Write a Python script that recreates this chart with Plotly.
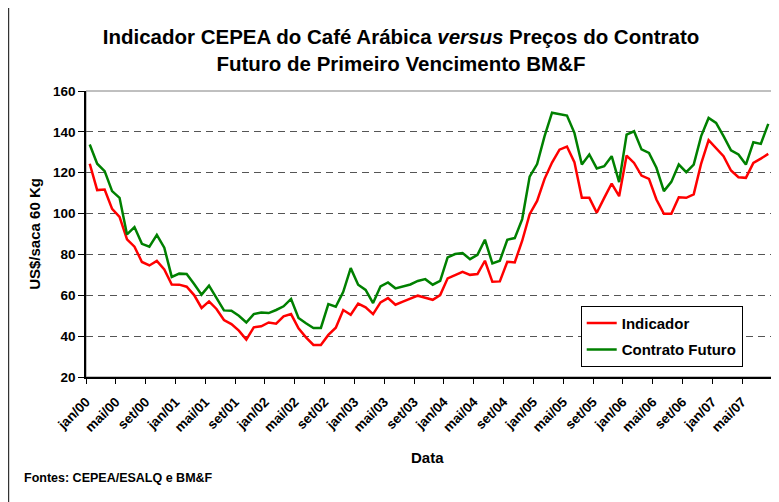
import plotly.graph_objects as go

meses = [
    "jan/00", "fev/00", "mar/00", "abr/00", "mai/00", "jun/00", "jul/00", "ago/00", "set/00", "out/00", "nov/00", "dez/00",
    "jan/01", "fev/01", "mar/01", "abr/01", "mai/01", "jun/01", "jul/01", "ago/01", "set/01", "out/01", "nov/01", "dez/01",
    "jan/02", "fev/02", "mar/02", "abr/02", "mai/02", "jun/02", "jul/02", "ago/02", "set/02", "out/02", "nov/02", "dez/02",
    "jan/03", "fev/03", "mar/03", "abr/03", "mai/03", "jun/03", "jul/03", "ago/03", "set/03", "out/03", "nov/03", "dez/03",
    "jan/04", "fev/04", "mar/04", "abr/04", "mai/04", "jun/04", "jul/04", "ago/04", "set/04", "out/04", "nov/04", "dez/04",
    "jan/05", "fev/05", "mar/05", "abr/05", "mai/05", "jun/05", "jul/05", "ago/05", "set/05", "out/05", "nov/05", "dez/05",
    "jan/06", "fev/06", "mar/06", "abr/06", "mai/06", "jun/06", "jul/06", "ago/06", "set/06", "out/06", "nov/06", "dez/06",
    "jan/07", "fev/07", "mar/07", "abr/07", "mai/07", "jun/07", "jul/07", "ago/07",
]

indicador = [
    124.4, 111.5, 111.8, 102.3, 98.4, 87.4, 83.8, 76.3, 74.6, 76.8, 72.7, 65.3,
    65.2, 64.2, 60.1, 53.8, 57.0, 53.3, 47.9, 45.9, 42.7, 38.3, 44.3, 44.8,
    46.7, 46.1, 49.7, 50.8, 43.8, 39.4, 35.7, 35.7, 40.6, 44.1, 52.8, 50.5,
    55.9, 54.1, 50.8, 56.5, 58.6, 55.4, 56.9, 58.2, 59.8, 58.8, 57.8, 60.1,
    68.3, 69.9, 71.5, 70.0, 70.4, 76.9, 66.6, 66.8, 76.4, 76.1, 86.7, 99.7,
    106.2, 117.0, 125.0, 131.3, 132.8, 125.2, 107.7, 107.7, 100.4, 107.7, 114.7, 108.5,
    128.4, 124.8, 118.6, 117.0, 106.9, 99.9, 99.9, 108.0, 107.7, 109.4, 124.5, 135.9,
    132.1, 128.1, 121.1, 117.8, 117.5, 124.8, 126.9, 129.2,
]

contrato_futuro = [
    133.8, 124.4, 120.8, 111.0, 107.7, 89.8, 93.4, 85.2, 83.8, 89.6, 83.3, 69.0,
    70.6, 70.4, 65.5, 60.3, 64.7, 58.6, 52.6, 52.4, 50.0, 46.7, 50.8, 51.6,
    51.3, 52.8, 54.6, 58.2, 48.9, 46.3, 44.0, 44.0, 55.7, 54.4, 61.7, 73.3,
    65.2, 62.6, 56.2, 64.4, 66.3, 63.4, 64.5, 65.3, 67.0, 67.9, 65.2, 67.1,
    78.5, 80.2, 80.7, 77.7, 79.8, 87.2, 75.6, 76.9, 87.2, 88.0, 97.3, 118.1,
    124.2, 137.9, 149.4, 148.6, 148.0, 139.5, 124.0, 128.9, 122.1, 123.2, 128.1, 115.4,
    138.7, 140.3, 131.4, 129.7, 122.4, 111.0, 115.5, 124.0, 120.3, 124.0, 137.9, 146.8,
    144.4, 137.9, 131.0, 128.9, 124.0, 134.9, 134.1, 143.9,
]

rotulos_x = ["jan/00", "mai/00", "set/00", "jan/01", "mai/01", "set/01", "jan/02", "mai/02",
             "set/02", "jan/03", "mai/03", "set/03", "jan/04", "mai/04", "set/04", "jan/05",
             "mai/05", "set/05", "jan/06", "mai/06", "set/06", "jan/07", "mai/07"]

y_ticks = [20, 40, 60, 80, 100, 120, 140, 160]

FONT = "Liberation Sans, Arial, sans-serif"
# the page places the figure 8px in from the top-left corner
OFF = 8
PAGE_W, PAGE_H = 779, 502
W, H = PAGE_W - OFF, PAGE_H - OFF
# plot area in page pixels: x 86..771.7, y 91..377.3
L, T = 86 - OFF, 91 - OFF
R = PAGE_W - 771.7
B = PAGE_H - 377.3
pw, ph = W - L - R, H - T - B

def px_x(x):
    return (x - 86) / (771.7 - 86)

def px_y(y):
    return (377.3 - y) / (377.3 - 91)

xs = list(range(len(meses)))

fig = go.Figure()
fig.add_trace(go.Scatter(
    x=xs, y=indicador, mode="lines", name="Indicador",
    line=dict(color="#FF0000", width=2.5), legendgroup="a",
    text=meses, hovertemplate="%{text}: %{y}<extra>Indicador</extra>",
))
fig.add_trace(go.Scatter(
    x=xs, y=contrato_futuro, mode="lines", name="Contrato Futuro",
    line=dict(color="#008000", width=2.5), legendgroup="b",
    text=meses, hovertemplate="%{text}: %{y}<extra>Contrato Futuro</extra>",
))

tickvals = [meses.index(m) - 0.5 for m in rotulos_x] + [len(meses) - 0.5]
ticktext = rotulos_x + [""]

fig.update_layout(
    width=W, height=H,
    margin=dict(l=L, r=R, t=T, b=B, autoexpand=False),
    paper_bgcolor="white", plot_bgcolor="white",
    font=dict(family=FONT, color="black"),
    title=dict(
        text="Indicador CEPEA do Café Arábica <i>versus</i> Preços do Contrato<br>Futuro de Primeiro Vencimento BM&F",
        x=(401 - OFF) / W, xanchor="center", xref="container",
        y=1 - (44 - OFF) / H, yanchor="middle", yref="container",
        font=dict(family=FONT, size=20.5, weight="bold", color="black"),
    ),
    xaxis=dict(
        range=[-0.5, len(meses) - 0.5], tickmode="array", tickvals=tickvals, ticktext=ticktext,
        tickangle=-45, ticks="outside", ticklen=5, tickcolor="black", tickwidth=1,
        ticklabelstandoff=5,
        showline=True, linecolor="black", linewidth=1.5, showgrid=False, zeroline=False,
        tickfont=dict(family=FONT, size=13.5, weight="bold"), automargin=False,
    ),
    yaxis=dict(
        range=[20, 160], tickmode="array", tickvals=y_ticks,
        ticks="outside", ticklen=6, tickcolor="black", tickwidth=1,
        showline=True, linecolor="black", linewidth=1.5,
        showgrid=True, gridcolor="#555555", gridwidth=1, griddash="7px,5px", zeroline=False,
        tickfont=dict(family=FONT, size=13.5, weight="bold"), automargin=False,
    ),
    legend=dict(
        x=px_x(580.5), y=px_y(306), xanchor="left", yanchor="top",
        bgcolor="white", bordercolor="black", borderwidth=1,
        font=dict(family=FONT, size=15, weight="bold"),
        tracegroupgap=4, traceorder="grouped",
    ),
    showlegend=True,
    hovermode="closest",
)

# plot-area border (top / right) in grey
fig.add_shape(type="rect", xref="paper", yref="paper", x0=0, y0=0, x1=1, y1=1,
              line=dict(color="#808080", width=1), layer="below")
# chart frame on the left
fig.add_shape(type="line", xref="paper", yref="paper", x0=px_x(8.5), x1=px_x(8.5),
              y0=px_y(PAGE_H + 5), y1=px_y(OFF), line=dict(color="#333333", width=1.5))

fig.add_annotation(text="<b>US$/saca 60 Kg</b>", xref="paper", yref="paper",
                   x=px_x(35), y=px_y(234), textangle=-90, showarrow=False,
                   font=dict(family=FONT, size=15), xanchor="center", yanchor="middle")
fig.add_annotation(text="<b>Data</b>", xref="paper", yref="paper",
                   x=px_x(427), y=px_y(458), showarrow=False,
                   font=dict(family=FONT, size=15), xanchor="center", yanchor="middle")
fig.add_annotation(text="<b>Fontes: CEPEA/ESALQ e BM&F</b>", xref="paper", yref="paper",
                   x=px_x(22), y=px_y(478), showarrow=False,
                   font=dict(family=FONT, size=12.5), xanchor="left", yanchor="middle")

fig.write_html("out.html")
